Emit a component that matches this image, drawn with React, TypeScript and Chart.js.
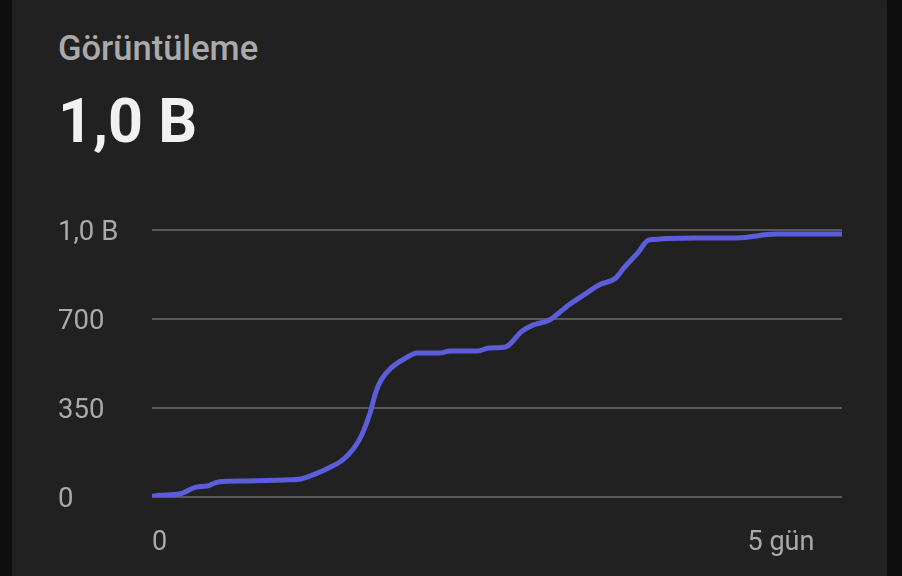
import React, { useEffect, useRef } from "react";
import { Chart, registerables } from "chart.js";

Chart.register(...registerables);

// hours since publish -> total views
const hours = [0, 1.5, 5, 8, 10, 12, 17, 24, 27, 29.5, 32, 34.5, 36.5, 38, 39.5, 40.5, 41.5, 43.5, 46, 48, 52, 54, 59, 61, 64, 67, 69, 72, 75.5, 79, 81, 84, 85.5, 88, 90, 98.5, 106, 113, 125];
const views = [3, 7, 12, 39, 43, 59, 63, 67, 71, 90, 114, 145, 190, 244, 330, 409, 460, 511, 547, 566, 566, 574, 574, 586, 590, 652, 676, 696, 755, 806, 834, 861, 901, 960, 1011, 1019, 1019, 1034, 1034];

const xTicks = [0, 120];
const yTicks = [0, 350, 700, 1050];

const formatViews = (v: number) =>
  v >= 1000 ? (Math.floor(v / 100) / 10).toFixed(1).replace(".", ",") + " B" : String(v);

const formatHours = (h: number) => (h === 0 ? "0" : h / 24 + " gün");

const ViewsChart = () => {
  const chartRef = useRef<HTMLCanvasElement>(null);

  useEffect(() => {
    const chartInstance = new Chart(chartRef.current!, {
      type: "line",
      data: {
        datasets: [
          {
            data: hours.map((h, i) => ({ x: h, y: views[i] })),
            borderColor: "#5c5ddb",
            borderWidth: 5,
            pointRadius: 0,
            cubicInterpolationMode: "monotone",
            fill: false
          }
        ]
      },
      options: {
        responsive: false,
        animation: false,
        layout: { padding: { top: 30, right: 10, left: 0, bottom: 0 } },
        plugins: {
          legend: { display: false },
          tooltip: { enabled: false }
        },
        scales: {
          x: {
            type: "linear",
            min: 0,
            max: 125,
            afterBuildTicks: (scale: any) => {
              scale.ticks = xTicks.map((value) => ({ value }));
            },
            afterFit: (scale: any) => {
              scale.height = 79;
            },
            grid: { display: false, drawTicks: false },
            border: { display: false },
            ticks: {
              align: "inner",
              maxRotation: 0,
              padding: 30,
              color: "#aaaaaa",
              font: { family: "Roboto", size: 27 },
              callback: (v: any) => formatHours(Number(v))
            }
          },
          y: {
            min: 0,
            max: 1050,
            afterBuildTicks: (scale: any) => {
              scale.ticks = yTicks.map((value) => ({ value }));
            },
            afterFit: (scale: any) => {
              scale.width = 94;
            },
            grid: {
              color: "rgba(255,255,255,0.25)",
              lineWidth: 2,
              drawTicks: false
            },
            border: { display: false },
            ticks: {
              crossAlign: "far",
              labelOffset: 3,
              color: "#aaaaaa",
              font: { family: "Roboto", size: 27.5 },
              callback: (v: any) => formatViews(Number(v))
            }
          }
        }
      }
    });

    return () => {
      chartInstance.destroy();
    };
  }, [chartRef]);

  return (
    <canvas
      ref={chartRef}
      width={794}
      height={376}
      style={{ position: "absolute", left: 58, top: 200, width: 794, height: 376 }}
    />
  );
};

export default function App() {
  return (
    <div style={{ position: "fixed", inset: 0, background: "#0f0f0f", overflow: "hidden" }}>
      <div
        style={{
          position: "absolute",
          left: 12,
          top: -20,
          width: 875,
          height: 640,
          background: "#212121",
          borderRadius: 22
        }}
      />
      <div
        style={{
          position: "absolute",
          left: 58,
          top: 31,
          fontFamily: "Roboto",
          fontWeight: 500,
          fontSize: 34.5,
          lineHeight: 1,
          color: "#aaaaaa",
          whiteSpace: "nowrap"
        }}
      >
        Görüntüleme
      </div>
      <div
        style={{
          position: "absolute",
          left: 58,
          top: 91,
          fontFamily: "Roboto",
          fontWeight: 700,
          fontSize: 61,
          lineHeight: 1,
          color: "#f1f1f1",
          whiteSpace: "nowrap"
        }}
      >
        1,0 B
      </div>
      <ViewsChart />
    </div>
  );
}
